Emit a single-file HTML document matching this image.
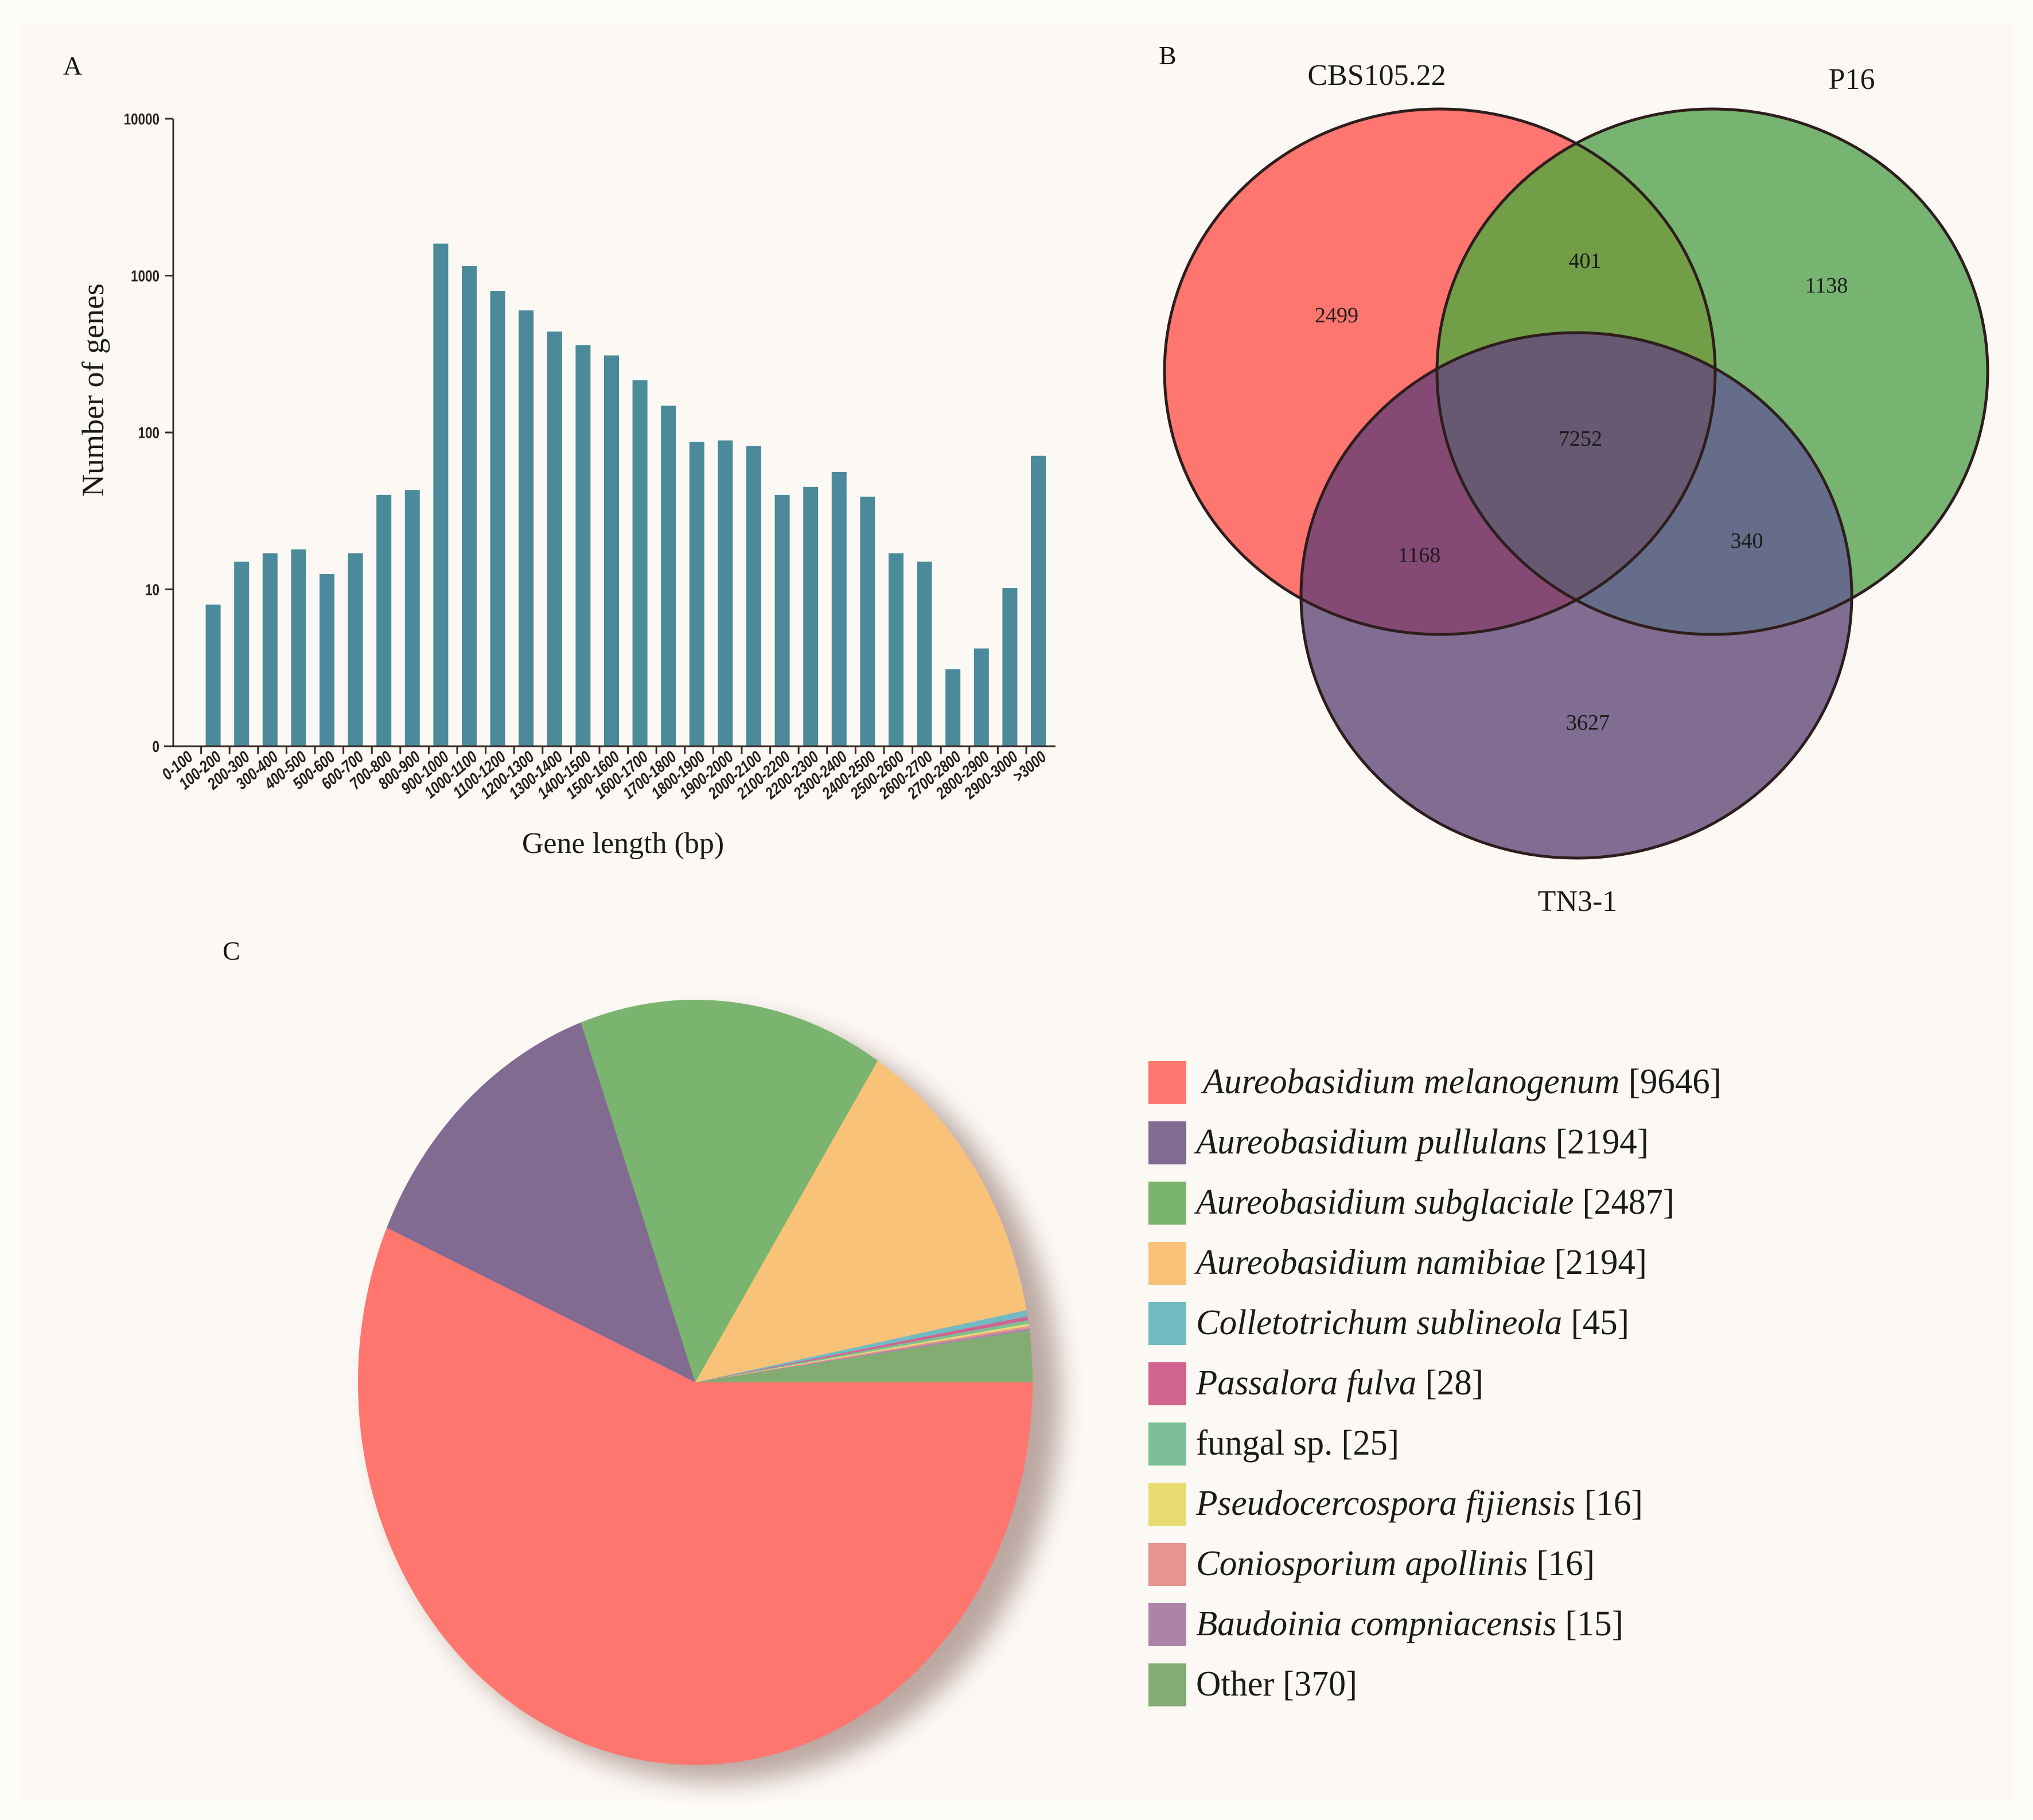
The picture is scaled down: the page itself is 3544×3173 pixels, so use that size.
<!DOCTYPE html>
<html><head><meta charset="utf-8"><style>
html,body{margin:0;padding:0;background:#fdfaf6;}
svg{display:block;}
</style></head><body>
<svg id="fig" width="3544" height="3173" viewBox="0 0 3544 3173" xmlns="http://www.w3.org/2000/svg">
<defs>
<filter id="blur" x="-20%" y="-20%" width="140%" height="140%"><feGaussianBlur stdDeviation="22"/></filter>
<clipPath id="clipR"><ellipse cx="2510" cy="648" rx="480" ry="458"/></clipPath>
<clipPath id="clipG"><ellipse cx="2985" cy="648" rx="480" ry="458"/></clipPath>
<clipPath id="clipP"><ellipse cx="2748" cy="1038" rx="480" ry="458"/></clipPath>
</defs>
<rect x="0" y="0" width="3544" height="3173" fill="#fefcf9"/>
<rect x="38" y="40" width="3470" height="3100" fill="#fcf9f5"/>
<g font-family="'Liberation Serif', serif" fill="#111">
<text x="110" y="130" font-size="46">A</text>
<text x="2020" y="112" font-size="46">B</text>
<text x="388" y="1673" font-size="46">C</text>
</g>
<g id="bar-chart"></g>
<g id="venn"></g>
<g id="pie"></g>
<g id="legend"></g>
</svg>
<script>
const NS = 'http://www.w3.org/2000/svg';
// ---- Bar chart data ----
const barCategories = ['0-100','100-200','200-300','300-400','400-500','500-600','600-700','700-800','800-900','900-1000','1000-1100','1100-1200','1200-1300','1300-1400','1400-1500','1500-1600','1600-1700','1700-1800','1800-1900','1900-2000','2000-2100','2100-2200','2200-2300','2300-2400','2400-2500','2500-2600','2600-2700','2700-2800','2800-2900','2900-3000','>3000'];
const barValues = [1,8,15,17,18,12.5,17,40,43,1600,1150,800,600,440,360,310,215,148,87,89,82,40,45,56,39,17,15,3.1,4.2,10.2,71];
const yTickValues = [1,10,100,1000,10000];
const yTickLabels = ['0','10','100','1000','10000'];
// ---- Venn data ----
const vennSets = ['CBS105.22','P16','TN3-1'];
const vennRegionValues = ['2499','1138','3627','401','1168','340','7252'];
// ---- Pie data ----
const pieNames = ['Aureobasidium melanogenum','Aureobasidium pullulans','Aureobasidium subglaciale','Aureobasidium namibiae','Colletotrichum sublineola','Passalora fulva','fungal sp.','Pseudocercospora fijiensis','Coniosporium apollinis','Baudoinia compniacensis','Other'];
const pieValues = [9646,2194,2487,2194,45,28,25,16,16,15,370];
const pieItalic = [true,true,true,true,true,true,false,true,true,true,false];

function mk(tag, attrs, parent){const e=document.createElementNS(NS,tag);for(const k in attrs)e.setAttribute(k,attrs[k]);if(parent)parent.appendChild(e);return e;}

// ---------- Bar chart ----------
(function(){
  const g=document.getElementById('bar-chart');
  const x0=302, baseY=1301, decade=273.5, xEnd=1840;
  const y=v=>baseY-Math.log10(Math.max(v,1))*decade;
  const cx=i=>322+49.6*i;
  barValues.forEach((v,i)=>{
    if(v<=1) return;
    const r=mk('rect',{x:cx(i)-13,y:y(v),width:26,height:baseY-y(v),fill:'#4a8a9a'},g);
    
    
  });
  const ya=mk('line',{x1:x0,y1:y(10000),x2:x0,y2:baseY,stroke:'#3a2a26','stroke-width':3},g);
  
  
  const xa=mk('line',{x1:x0-16,y1:baseY,x2:xEnd,y2:baseY,stroke:'#3a2a26','stroke-width':3},g);
  
  
  yTickValues.forEach((v,i)=>{
    mk('line',{x1:x0-14,y1:y(v),x2:x0,y2:y(v),stroke:'#3a2a26','stroke-width':3},g);
    const t=mk('text',{x:0,y:0,'font-family':"'Liberation Sans',sans-serif",'font-weight':'bold','font-size':28,'text-anchor':'end',fill:'#2a1e1b',transform:`translate(${x0-24},${y(v)+10}) scale(0.8,1)`},g);
    t.textContent=yTickLabels[i];
    
    
  });
  barCategories.forEach((c,i)=>{
    if(i>0) mk('line',{x1:cx(i)-21,y1:baseY,x2:cx(i)-21,y2:baseY+14,stroke:'#3a2a26','stroke-width':3},g);
    const t=mk('text',{x:0,y:0,'font-family':"'Liberation Sans',sans-serif",'font-weight':'bold','font-style':'italic','font-size':29,'text-anchor':'end',fill:'#2a1e1b',transform:`translate(${cx(i)+16},${baseY+22}) rotate(-40) scale(0.8,1)`},g);
    t.textContent=c;
    
    
  });
  const yt=mk('text',{x:0,y:0,'font-family':"'Liberation Serif',serif",'font-size':54,'text-anchor':'middle',fill:'#1a1a1a',transform:'translate(180,680) rotate(-90)'},g);
  yt.textContent='Number of genes';
  
  
  const xt=mk('text',{x:1086,y:1487,'font-family':"'Liberation Serif',serif",'font-size':52,'text-anchor':'middle',fill:'#1a1a1a'},g);
  xt.textContent='Gene length (bp)';
  
  
})();

// ---------- Venn ----------
(function(){
  const g=document.getElementById('venn');
  const circles=[{cx:2510,cy:648,fill:'#ff756f'},{cx:2985,cy:648,fill:'#77b471'},{cx:2748,cy:1038,fill:'#816c92'}];
  circles.forEach((c,i)=>{
    const e=mk('ellipse',{cx:c.cx,cy:c.cy,rx:480,ry:458,fill:c.fill},g);
    
    
  });
  // overlaps
  mk('ellipse',{cx:2985,cy:648,rx:480,ry:458,fill:'#729e48','clip-path':'url(#clipR)'},g);
  mk('ellipse',{cx:2748,cy:1038,rx:480,ry:458,fill:'#844a74','clip-path':'url(#clipR)'},g);
  mk('ellipse',{cx:2748,cy:1038,rx:480,ry:458,fill:'#656d8a','clip-path':'url(#clipG)'},g);
  const cg=mk('g',{'clip-path':'url(#clipR)'},g);
  mk('ellipse',{cx:2748,cy:1038,rx:480,ry:458,fill:'#675972','clip-path':'url(#clipG)'},cg);
  circles.forEach(c=>mk('ellipse',{cx:c.cx,cy:c.cy,rx:480,ry:458,fill:'none',stroke:'#2e1d1d','stroke-width':5},g));
  const setLabelPos=[[2400,148],[3228,155],[2750,1588]];
  vennSets.forEach((s,i)=>{
    const t=mk('text',{x:setLabelPos[i][0],y:setLabelPos[i][1],'font-family':"'Liberation Serif',serif",'font-size':52,'text-anchor':'middle',fill:'#1a1a1a'},g);
    t.textContent=s;
    
    
  });
  const regionPos=[[2330,562],[3184,510],[2768,1272],[2763,467],[2474,980],[3045,955],[2755,777]];
  vennRegionValues.forEach((v,i)=>{
    const t=mk('text',{x:regionPos[i][0],y:regionPos[i][1],'font-family':"'Liberation Serif',serif",'font-size':38,'text-anchor':'middle',fill:'#1a1a1a'},g);
    t.textContent=v;
    
    
  });
})();

// ---------- Pie ----------
const pieColors=['#ff766f','#826b90','#7bb46f','#f8c378','#72bac4','#d0648f','#7cbf96','#e8dc70','#e5948f','#ad84a8','#82ac72'];
(function(){
  const g=document.getElementById('pie');
  const cx=1212, cy=2410, rx=588, ry=667;
  mk('ellipse',{cx:cx+40,cy:cy+30,rx:rx+8,ry:ry,fill:'#b59f98',filter:'url(#blur)','fill-opacity':0.9},g);
  const total=pieValues.reduce((a,b)=>a+b,0);
  let a=0;
  pieValues.forEach((v,i)=>{
    const a2=a+v/total*2*Math.PI;
    const p1=[cx+rx*Math.cos(a),cy+ry*Math.sin(a)], p2=[cx+rx*Math.cos(a2),cy+ry*Math.sin(a2)];
    const large=(a2-a)>Math.PI?1:0;
    const p=mk('path',{d:`M${cx},${cy} L${p1[0]},${p1[1]} A${rx},${ry} 0 ${large} 1 ${p2[0]},${p2[1]} Z`,fill:pieColors[i]},g);
    
    
    a=a2;
  });
})();

// ---------- Legend ----------
(function(){
  const g=document.getElementById('legend');
  const widths=[904,789,834,786,755,501,354,779,695,745,281];
  pieNames.forEach((n,i)=>{
    const top=1850+105*i;
    const sw=mk('rect',{x:2002,y:top,width:66,height:75,fill:pieColors[i]},g);
    
    
    const t=mk('text',{x:i===0?2097:2085,y:top+56,'font-family':"'Liberation Serif',serif",'font-size':62,fill:'#1a1a1a',textLength:widths[i],lengthAdjust:'spacingAndGlyphs'},g);
    const s1=mk('tspan',{'font-style':pieItalic[i]?'italic':'normal'},t);
    s1.textContent=n;
    const s2=mk('tspan',{},t);
    s2.textContent=' ['+pieValues[i]+']';
    
    
  });
})();
</script>
</body></html>
